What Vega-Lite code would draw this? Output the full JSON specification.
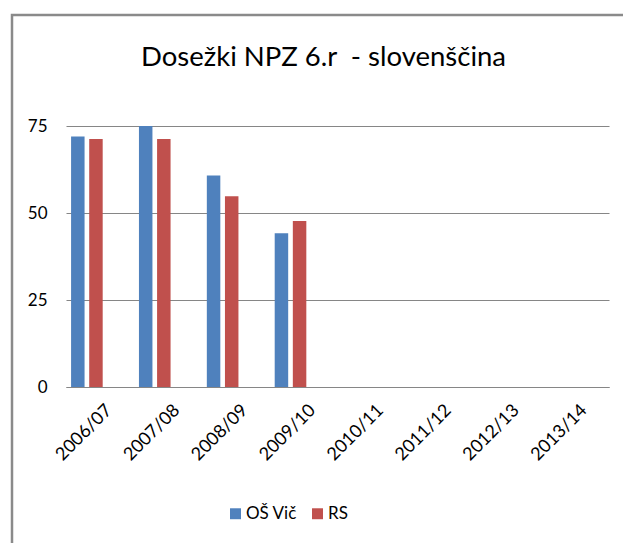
{
  "$schema": "https://vega.github.io/schema/vega-lite/v6.json",
  "autosize": "none",
  "padding": {"left": 12, "top": 15, "right": 0, "bottom": 0},
  "width": 615,
  "height": 535,
  "background": "white",
  "config": {
    "view": {"stroke": "#8a8a8a", "strokeWidth": 2.5},
    "font": "Lato"
  },
  "title": {
    "text": "Dosežki NPZ 6.r \u00a0- slovenščina",
    "font": "Lato",
    "fontSize": 27.5,
    "fontWeight": "normal",
    "color": "#000000",
    "anchor": "middle",
    "frame": "group",
    "baseline": "alphabetic",
    "offset": -78,
    "dx": 4
  },
  "data": {
    "values": [
      {"year": "2006/07", "series": "OŠ Vič", "value": 72.0},
      {"year": "2006/07", "series": "RS", "value": 71.3},
      {"year": "2007/08", "series": "OŠ Vič", "value": 75.0},
      {"year": "2007/08", "series": "RS", "value": 71.3},
      {"year": "2008/09", "series": "OŠ Vič", "value": 60.8},
      {"year": "2008/09", "series": "RS", "value": 54.8},
      {"year": "2009/10", "series": "OŠ Vič", "value": 44.2},
      {"year": "2009/10", "series": "RS", "value": 47.7}
    ]
  },
  "mark": {"type": "bar"},
  "encoding": {
    "x": {
      "field": "year",
      "type": "nominal",
      "sort": null,
      "scale": {
        "domain": ["2006/07", "2007/08", "2008/09", "2009/10", "2010/11", "2011/12", "2012/13", "2013/14"],
        "range": [54, 597],
        "paddingInner": 0,
        "paddingOuter": 0
      },
      "axis": {
        "title": null,
        "orient": "bottom",
        "offset": -163,
        "labelAngle": -45,
        "labelFont": "Lato",
        "labelFontSize": 18,
        "labelColor": "#000000",
        "labelPadding": 14,
        "labelOffset": 3,
        "ticks": false,
        "domain": true,
        "domainColor": "#868686",
        "domainWidth": 1.2,
        "grid": false
      }
    },
    "xOffset": {
      "field": "series",
      "type": "nominal",
      "scale": {
        "domain": ["OŠ Vič", "RS"],
        "paddingInner": 0.256,
        "paddingOuter": 1.3,
        "align": 0.14
      }
    },
    "y": {
      "field": "value",
      "type": "quantitative",
      "scale": {"domain": [0, 75], "range": [372, 111], "nice": false},
      "axis": {
        "title": null,
        "orient": "left",
        "offset": -54,
        "values": [0, 25, 50, 75],
        "labelFont": "Lato",
        "labelFontSize": 17,
        "labelColor": "#000000",
        "labelPadding": 19,
        "ticks": false,
        "domain": false,
        "grid": true,
        "gridColor": "#868686",
        "gridWidth": 1.2
      }
    },
    "color": {
      "field": "series",
      "type": "nominal",
      "scale": {"domain": ["OŠ Vič", "RS"], "range": ["#4F81BD", "#C0504D"]},
      "legend": {
        "title": null,
        "orient": "none",
        "legendX": 215,
        "legendY": 490,
        "direction": "horizontal",
        "symbolType": "square",
        "symbolSize": 120,
        "symbolStrokeWidth": 0,
        "symbolOpacity": 1,
        "labelFont": "Lato",
        "labelFontSize": 17,
        "labelColor": "#000000",
        "labelOffset": 2,
        "columnPadding": 12,
        "padding": 0
      }
    }
  }
}
